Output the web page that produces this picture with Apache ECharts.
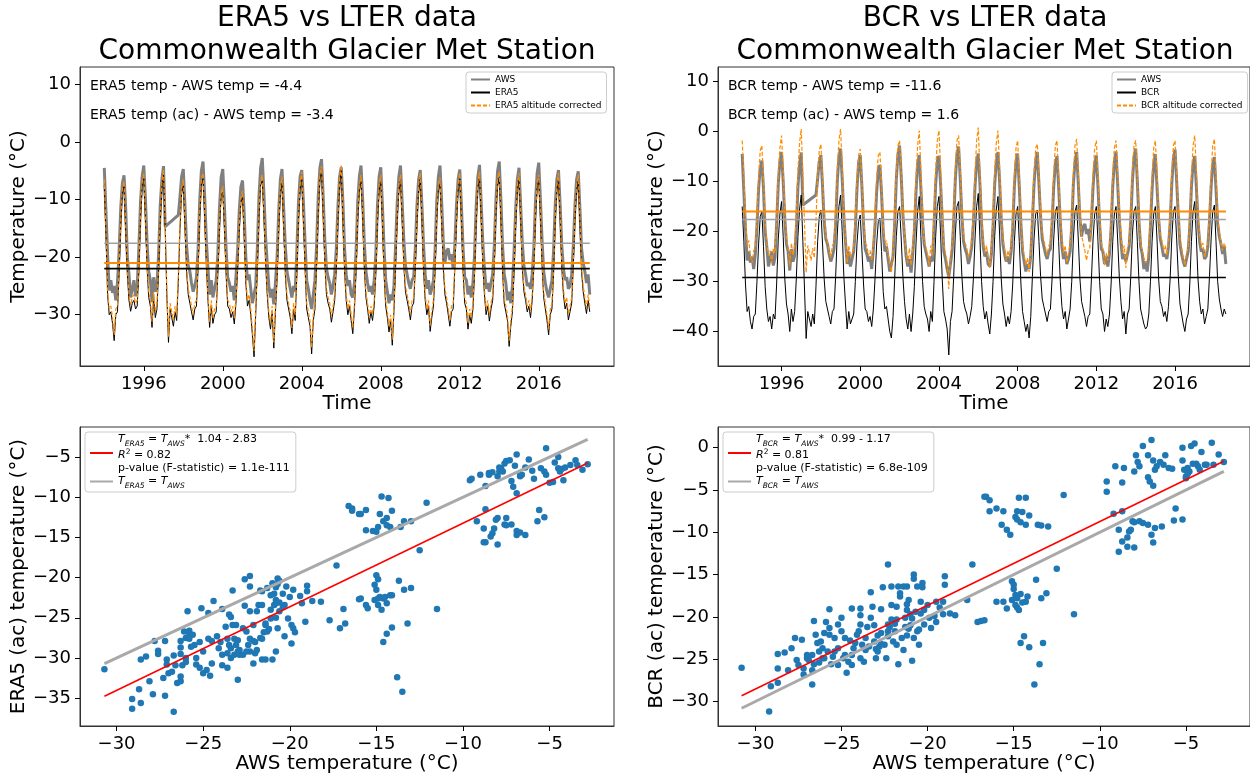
<!DOCTYPE html>
<html><head><meta charset="utf-8">
<script src="https://cdn.jsdelivr.net/npm/echarts@6/dist/echarts.min.js"></script>
<style>html,body{margin:0;padding:0;background:#fff}#c{width:1250px;height:776px}</style>
</head><body><div id="c"></div>
<script>
// ---------------- DATA ----------------
const startYear = 1994; // monthly values, Jan 1994 .. Aug 2018
const yearTicks = [1996, 2000, 2004, 2008, 2012, 2016];

const aws = [
-4.5,-12.0,-19.5,-25.8,-24.0,-26.2,-25.0,-27.5,-24.5,-19.0,-11.5,-7.2,
-5.8,-11.5,-20.0,-23.0,-27.0,-25.5,-24.0,-26.8,-25.2,-18.5,-10.5,-6.0,
-4.1,-10.0,-17.5,-22.5,-24.0,-27.8,-23.5,-26.0,-24.8,-19.5,-11.0,-6.5,
-4.2,-14.7,-14.5,-14.2,-14.0,-13.7,-13.5,-13.2,-12.9,-12.7,-9.5,-6.0,
-4.7,-11.0,-18.0,-21.5,-22.5,-24.5,-26.0,-25.0,-23.5,-18.5,-10.0,-5.0,
-3.4,-9.5,-17.0,-22.0,-26.5,-24.0,-27.0,-25.5,-24.0,-19.5,-11.5,-6.2,
-4.7,-11.0,-18.5,-23.5,-24.5,-26.0,-25.0,-27.5,-23.5,-19.0,-12.0,-7.8,
-6.7,-12.5,-20.0,-24.0,-23.0,-25.5,-28.0,-26.5,-25.0,-18.5,-9.5,-4.5,
-2.8,-9.0,-16.5,-21.0,-25.0,-27.0,-25.5,-28.2,-24.5,-20.0,-12.0,-6.5,
-4.7,-11.5,-18.0,-22.5,-24.0,-25.5,-27.0,-25.0,-26.0,-19.0,-10.5,-6.0,
-4.9,-10.5,-17.5,-24.0,-25.5,-27.5,-29.0,-26.5,-24.0,-18.0,-9.5,-4.5,
-3.0,-9.5,-17.0,-22.0,-23.5,-24.5,-26.5,-25.0,-23.0,-18.5,-11.0,-6.0,
-4.4,-10.5,-18.5,-23.0,-25.0,-24.0,-26.5,-27.0,-24.5,-19.0,-10.5,-6.0,
-4.1,-10.0,-17.5,-22.5,-24.5,-26.0,-25.0,-26.5,-24.0,-19.5,-11.0,-6.0,
-4.4,-11.0,-18.5,-24.0,-26.0,-28.0,-26.5,-27.5,-25.0,-18.0,-10.5,-6.0,
-4.1,-10.5,-17.0,-21.5,-23.0,-24.5,-25.5,-24.0,-23.5,-18.5,-11.0,-6.5,
-4.9,-11.0,-18.0,-23.0,-25.5,-24.0,-26.5,-25.5,-24.0,-19.0,-10.5,-6.0,
-4.1,-10.5,-17.5,-21.0,-19.0,-18.5,-20.5,-19.5,-22.0,-18.0,-11.0,-6.5,
-4.8,-11.0,-18.5,-23.5,-24.0,-26.5,-25.0,-27.0,-24.5,-19.5,-11.0,-6.0,
-4.0,-10.5,-17.5,-22.0,-25.5,-24.5,-26.0,-24.5,-23.0,-18.0,-10.0,-5.0,
-3.4,-10.0,-18.0,-23.0,-24.5,-27.5,-26.0,-28.0,-25.0,-19.0,-11.5,-6.5,
-4.5,-11.0,-17.5,-21.5,-23.0,-25.0,-24.5,-25.5,-23.0,-18.5,-10.5,-5.5,
-3.6,-10.0,-17.0,-22.5,-24.5,-26.0,-27.0,-25.5,-24.0,-19.0,-11.0,-6.5,
-4.9,-11.0,-18.0,-22.0,-24.0,-23.5,-25.5,-25.0,-23.0,-18.0,-11.0,-6.5,
-5.1,-11.5,-18.5,-21.0,-22.5,-24.5,-23.0,-26.5
];

const era5 = [
-7.5,-16.0,-26.5,-30.0,-29.5,-31.5,-34.5,-30.0,-29.5,-23.0,-14.5,-9.0,
-7.8,-15.5,-23.0,-27.5,-29.4,-28.0,-27.5,-29.0,-28.5,-22.5,-13.5,-8.0,
-6.4,-13.5,-22.0,-27.0,-28.5,-32.2,-27.0,-30.5,-29.0,-22.5,-14.0,-8.0,
-5.8,-15.0,-26.5,-34.8,-29.0,-30.5,-32.0,-29.5,-31.0,-24.0,-15.0,-9.0,
-7.5,-14.5,-22.5,-26.5,-28.0,-29.5,-30.9,-29.0,-28.5,-22.0,-13.0,-7.5,
-6.4,-13.0,-21.5,-27.5,-32.2,-28.5,-31.5,-30.0,-29.5,-23.0,-15.0,-9.5,
-8.7,-15.0,-23.0,-28.5,-29.0,-30.5,-29.5,-31.6,-28.0,-22.5,-15.5,-10.5,
-9.5,-16.5,-24.5,-28.5,-27.5,-30.0,-33.5,-37.3,-30.0,-22.0,-13.0,-7.5,
-6.7,-13.0,-21.0,-26.5,-30.5,-32.5,-29.5,-35.8,-29.5,-24.0,-15.0,-9.0,
-7.0,-15.0,-23.0,-27.5,-29.0,-30.5,-33.3,-29.0,-31.0,-23.0,-13.5,-8.5,
-6.2,-13.5,-22.0,-29.0,-30.5,-32.0,-36.8,-31.0,-29.0,-21.5,-12.5,-6.5,
-5.2,-12.5,-21.0,-26.5,-28.0,-29.0,-31.3,-29.5,-27.5,-22.0,-14.0,-7.5,
-5.0,-13.5,-22.5,-27.5,-30.0,-28.5,-31.0,-33.3,-29.0,-22.5,-13.5,-8.5,
-6.7,-13.0,-22.0,-27.0,-29.0,-31.5,-29.5,-31.0,-28.5,-23.0,-14.0,-8.5,
-6.7,-14.0,-23.0,-28.5,-30.5,-33.0,-31.0,-35.3,-29.5,-21.5,-13.5,-8.5,
-6.7,-13.5,-21.5,-26.0,-27.5,-29.0,-30.9,-28.5,-28.0,-22.0,-14.0,-8.5,
-6.4,-13.5,-22.5,-27.5,-30.0,-28.5,-32.9,-30.5,-28.5,-22.5,-13.5,-8.5,
-7.2,-14.0,-22.0,-26.5,-28.0,-30.0,-32.0,-29.5,-29.0,-22.0,-14.0,-8.5,
-6.4,-13.5,-22.5,-28.0,-29.0,-32.5,-30.0,-31.5,-29.0,-23.0,-14.0,-8.0,
-6.2,-13.0,-21.5,-26.5,-30.0,-28.5,-31.1,-29.0,-27.5,-21.5,-12.5,-7.5,
-6.2,-13.5,-22.5,-28.0,-29.5,-31.0,-35.5,-32.0,-29.5,-22.5,-14.5,-8.5,
-6.4,-13.5,-22.0,-26.0,-27.5,-29.5,-28.5,-30.5,-27.5,-22.0,-13.5,-8.0,
-6.7,-13.0,-21.5,-27.0,-29.0,-31.0,-33.5,-30.0,-29.0,-23.0,-14.0,-8.5,
-6.4,-13.5,-22.0,-26.5,-29.0,-28.0,-30.9,-29.5,-28.0,-21.5,-13.5,-8.5,
-6.7,-14.0,-22.5,-26.0,-28.0,-29.8,-27.5,-29.5
];

const era5ac = [
-6.5,-15.0,-25.5,-29.0,-28.5,-30.5,-33.5,-29.0,-28.5,-22.0,-13.5,-8.0,
-6.8,-14.5,-22.0,-26.5,-28.4,-27.0,-26.5,-28.0,-27.5,-21.5,-12.5,-7.0,
-5.4,-12.5,-21.0,-26.0,-27.5,-31.2,-26.0,-29.5,-28.0,-21.5,-13.0,-7.0,
-4.8,-14.0,-25.5,-33.8,-28.0,-29.5,-31.0,-28.5,-30.0,-23.0,-14.0,-8.0,
-6.5,-13.5,-21.5,-25.5,-27.0,-28.5,-29.9,-28.0,-27.5,-21.0,-12.0,-6.5,
-5.4,-12.0,-20.5,-26.5,-31.2,-27.5,-30.5,-29.0,-28.5,-22.0,-14.0,-8.5,
-7.7,-14.0,-22.0,-27.5,-28.0,-29.5,-28.5,-30.6,-27.0,-21.5,-14.5,-9.5,
-8.5,-15.5,-23.5,-27.5,-26.5,-29.0,-32.5,-36.3,-29.0,-21.0,-12.0,-6.5,
-5.7,-12.0,-20.0,-25.5,-29.5,-31.5,-28.5,-34.8,-28.5,-23.0,-14.0,-8.0,
-6.0,-14.0,-22.0,-26.5,-28.0,-29.5,-32.3,-28.0,-30.0,-22.0,-12.5,-7.5,
-5.2,-12.5,-21.0,-28.0,-29.5,-31.0,-35.8,-30.0,-28.0,-20.5,-11.5,-5.5,
-4.2,-11.5,-20.0,-25.5,-27.0,-28.0,-30.3,-28.5,-26.5,-21.0,-13.0,-6.5,
-4.0,-12.5,-21.5,-26.5,-29.0,-27.5,-30.0,-32.3,-28.0,-21.5,-12.5,-7.5,
-5.7,-12.0,-21.0,-26.0,-28.0,-30.5,-28.5,-30.0,-27.5,-22.0,-13.0,-7.5,
-5.7,-13.0,-22.0,-27.5,-29.5,-32.0,-30.0,-34.3,-28.5,-20.5,-12.5,-7.5,
-5.7,-12.5,-20.5,-25.0,-26.5,-28.0,-29.9,-27.5,-27.0,-21.0,-13.0,-7.5,
-5.4,-12.5,-21.5,-26.5,-29.0,-27.5,-31.9,-29.5,-27.5,-21.5,-12.5,-7.5,
-6.2,-13.0,-21.0,-25.5,-27.0,-29.0,-31.0,-28.5,-28.0,-21.0,-13.0,-7.5,
-5.4,-12.5,-21.5,-27.0,-28.0,-31.5,-29.0,-30.5,-28.0,-22.0,-13.0,-7.0,
-5.2,-12.0,-20.5,-25.5,-29.0,-27.5,-30.1,-28.0,-26.5,-20.5,-11.5,-6.5,
-5.2,-12.5,-21.5,-27.0,-28.5,-30.0,-34.5,-31.0,-28.5,-21.5,-13.5,-7.5,
-5.4,-12.5,-21.0,-25.0,-26.5,-28.5,-27.5,-29.5,-26.5,-21.0,-12.5,-7.0,
-5.7,-12.0,-20.5,-26.0,-28.0,-30.0,-32.5,-29.0,-28.0,-22.0,-13.0,-7.5,
-5.4,-12.5,-21.0,-25.5,-28.0,-27.0,-29.9,-28.5,-27.0,-20.5,-12.5,-7.5,
-5.7,-13.0,-21.5,-25.0,-27.0,-28.8,-26.5,-28.5
];

const bcr = [
-15.0,-22.0,-30.5,-36.0,-35.0,-38.0,-39.5,-37.0,-36.5,-30.0,-22.5,-17.0,
-16.0,-23.0,-31.0,-35.5,-38.0,-37.0,-39.5,-36.5,-37.5,-30.5,-21.5,-16.5,
-14.0,-21.0,-29.5,-34.5,-36.5,-40.0,-35.5,-38.0,-36.0,-29.5,-21.0,-15.5,
-12.7,-22.0,-31.5,-41.4,-36.0,-37.5,-39.0,-36.5,-38.5,-31.0,-22.0,-17.0,
-15.7,-22.5,-29.5,-34.0,-35.5,-37.0,-38.5,-36.0,-35.5,-29.0,-20.5,-15.0,
-12.7,-20.0,-29.0,-34.5,-39.5,-36.0,-38.5,-37.5,-36.5,-30.0,-22.5,-18.0,
-16.7,-23.5,-30.5,-35.5,-36.0,-38.0,-37.0,-39.0,-35.5,-29.5,-22.5,-18.0,
-17.3,-24.0,-32.0,-35.5,-35.0,-37.5,-40.0,-41.3,-37.0,-29.5,-21.0,-16.0,
-15.0,-21.5,-29.0,-34.0,-37.5,-39.5,-36.5,-40.0,-36.5,-31.0,-22.5,-16.0,
-13.0,-21.0,-30.0,-35.0,-36.5,-37.5,-40.0,-36.0,-38.0,-30.0,-21.0,-15.0,
-13.0,-20.5,-29.5,-36.0,-37.5,-39.5,-44.7,-38.0,-36.0,-29.0,-20.5,-15.0,
-14.0,-21.0,-29.0,-34.0,-35.5,-36.5,-38.5,-37.0,-35.0,-29.5,-21.5,-15.0,
-12.4,-21.5,-30.0,-35.0,-37.5,-36.0,-38.5,-40.5,-36.5,-30.0,-21.0,-15.5,
-13.0,-20.5,-29.5,-34.5,-36.5,-39.0,-37.0,-38.5,-36.0,-30.5,-22.0,-16.5,
-15.0,-22.0,-30.5,-36.0,-38.0,-40.0,-38.5,-41.3,-37.0,-29.0,-21.5,-16.5,
-15.7,-22.0,-29.0,-33.5,-35.0,-36.5,-38.0,-36.0,-35.5,-29.5,-21.5,-16.0,
-15.0,-22.0,-30.0,-35.0,-37.5,-36.0,-39.5,-37.5,-35.5,-30.0,-21.5,-16.0,
-14.7,-21.5,-29.5,-34.0,-35.5,-37.0,-39.0,-37.0,-36.5,-29.5,-21.5,-16.5,
-15.0,-22.0,-30.0,-35.5,-36.5,-40.0,-37.5,-39.0,-36.5,-30.5,-22.0,-16.5,
-15.0,-21.5,-29.0,-34.0,-37.5,-36.0,-40.5,-36.5,-35.5,-29.0,-20.5,-16.0,
-15.0,-22.0,-30.0,-35.5,-37.0,-38.5,-39.5,-39.0,-36.5,-30.0,-22.0,-16.5,
-15.0,-21.5,-29.5,-34.0,-35.0,-37.0,-36.0,-38.0,-35.0,-29.5,-21.5,-16.0,
-15.0,-21.5,-29.0,-34.5,-36.5,-38.5,-40.0,-37.5,-36.5,-30.5,-22.0,-16.0,
-14.0,-21.0,-29.5,-34.0,-36.5,-35.5,-38.5,-37.0,-35.5,-29.0,-21.5,-16.0,
-14.7,-22.0,-30.0,-33.5,-35.5,-37.0,-35.5,-36.5
];

const bcrac = [
-1.8,-8.8,-17.3,-22.8,-21.8,-24.8,-26.3,-23.8,-23.3,-16.8,-9.3,-3.8,
-2.8,-9.8,-17.8,-22.3,-24.8,-23.8,-26.3,-23.3,-24.3,-17.3,-8.3,-3.3,
-0.8,-7.8,-16.3,-21.3,-23.3,-26.8,-22.3,-24.8,-22.8,-16.3,-7.8,-2.3,
0.5,-8.8,-18.3,-28.2,-22.8,-24.3,-25.8,-23.3,-25.3,-17.8,-8.8,-3.8,
-2.5,-9.3,-16.3,-20.8,-22.3,-23.8,-25.3,-22.8,-22.3,-15.8,-7.3,-1.8,
0.5,-6.8,-15.8,-21.3,-26.3,-22.8,-25.3,-24.3,-23.3,-16.8,-9.3,-4.8,
-3.5,-10.3,-17.3,-22.3,-22.8,-24.8,-23.8,-25.8,-22.3,-16.3,-9.3,-4.8,
-4.1,-10.8,-18.8,-22.3,-21.8,-24.3,-26.8,-28.1,-23.8,-16.3,-7.8,-2.8,
-1.8,-8.3,-15.8,-20.8,-24.3,-26.3,-23.3,-26.8,-23.3,-17.8,-9.3,-2.8,
0.2,-7.8,-16.8,-21.8,-23.3,-24.3,-26.8,-22.8,-24.8,-16.8,-7.8,-1.8,
0.2,-7.3,-16.3,-22.8,-24.3,-26.3,-31.5,-24.8,-22.8,-15.8,-7.3,-1.8,
-0.8,-7.8,-15.8,-20.8,-22.3,-23.3,-25.3,-23.8,-21.8,-16.3,-8.3,-1.8,
0.8,-8.3,-16.8,-21.8,-24.3,-22.8,-25.3,-27.3,-23.3,-16.8,-7.8,-2.3,
0.2,-7.3,-16.3,-21.3,-23.3,-25.8,-23.8,-25.3,-22.8,-17.3,-8.8,-3.3,
-1.8,-8.8,-17.3,-22.8,-24.8,-26.8,-25.3,-28.1,-23.8,-15.8,-8.3,-3.3,
-2.5,-8.8,-15.8,-20.3,-21.8,-23.3,-24.8,-22.8,-22.3,-16.3,-8.3,-2.8,
-1.8,-8.8,-16.8,-21.8,-24.3,-22.8,-26.3,-24.3,-22.3,-16.8,-8.3,-2.8,
-1.5,-8.3,-16.3,-20.8,-22.3,-23.8,-25.8,-23.8,-23.3,-16.3,-8.3,-3.3,
-1.8,-8.8,-16.8,-22.3,-23.3,-26.8,-24.3,-25.8,-23.3,-17.3,-8.8,-3.3,
-1.8,-8.3,-15.8,-20.8,-24.3,-22.8,-27.3,-23.3,-22.3,-15.8,-7.3,-2.8,
-1.8,-8.8,-16.8,-22.3,-23.8,-25.3,-26.3,-25.8,-23.3,-16.8,-8.8,-3.3,
-1.8,-8.3,-16.3,-20.8,-21.8,-23.8,-22.8,-24.8,-21.8,-16.3,-8.3,-2.8,
-1.8,-8.3,-15.8,-21.3,-23.3,-25.3,-26.8,-24.3,-23.3,-17.3,-8.8,-2.8,
-0.8,-7.8,-16.3,-20.8,-23.3,-22.3,-25.3,-23.8,-22.3,-15.8,-8.3,-2.8,
-1.5,-8.8,-16.8,-20.3,-22.3,-23.8,-22.3,-23.3
];

// period means (horizontal lines) and stated differences
const awsMean = -17.6, era5Mean = -22.0, era5acMean = -21.0, bcrMean = -29.2, bcracMean = -16.0;
const era5Diff = '-4.4', era5acDiff = '-3.4', bcrDiff = '-11.6', bcracDiff = '1.6';

// scatter: [AWS temp, reanalysis (ac) temp]
const scatterEra5 = [
[-30.7,-31.4],[-29.1,-36.3],[-29.1,-35.1],[-28.6,-35.6],[-28.7,-33.9],[-28.1,-32.9],[-27.9,-34.5],[-27.2,-34.7],[-26.7,-36.7],[-27.3,-32.5],
[-27.0,-31.9],[-26.5,-33.1],[-26.3,-32.9],[-28.6,-30.2],[-28.3,-29.8],[-27.6,-29.1],[-27.6,-29.5],[-27.8,-27.9],[-27.2,-27.9],[-27.1,-30.2],
[-27.1,-30.8],[-26.6,-30.9],[-26.7,-29.7],[-26.3,-29.5],[-26.3,-28.7],[-26.3,-27.9],[-26.0,-27.5],[-26.2,-30.9],[-26.0,-30.5],[-25.9,-24.2],
[-25.8,-26.6],[-25.8,-27.1],[-25.7,-28.6],[-25.4,-30.0],[-25.4,-30.8],[-25.2,-31.2],[-25.0,-31.9],[-24.8,-31.5],[-24.6,-32.2],[-25.1,-23.8],
[-24.7,-24.4],[-24.4,-22.9],[-24.5,-30.7],[-24.1,-28.8],[-23.9,-29.6],[-23.9,-23.9],[-23.9,-30.9],[-23.6,-31.2],[-23.7,-26.1],[-23.5,-24.6],
[-23.4,-24.9],[-23.3,-25.9],[-23.1,-25.9],[-23.5,-28.4],[-23.4,-28.8],[-23.2,-27.6],[-23.0,-27.8],[-23.3,-21.6],[-23.0,-32.7],[-22.9,-29.6],
[-22.7,-29.6],[-22.6,-23.5],[-22.6,-20.2],[-22.3,-19.8],[-22.3,-21.1],[-22.5,-26.7],[-22.4,-28.4],[-22.3,-29.2],[-22.1,-30.7],[-22.0,-29.4],
[-22.0,-28.0],[-22.1,-25.9],[-21.9,-24.2],[-21.8,-23.4],[-21.7,-21.6],[-21.6,-23.4],[-21.7,-27.5],[-21.6,-30.2],[-21.6,-27.6],[-21.4,-25.9],
[-21.3,-26.7],[-21.1,-25.1],[-21.1,-24.0],[-21.0,-20.7],[-20.9,-22.0],[-20.8,-21.2],[-20.7,-20.1],[-20.6,-20.4],[-20.7,-20.8],[-20.8,-22.8],
[-20.7,-26.3],[-20.8,-25.0],[-20.6,-23.1],[-20.6,-24.2],[-20.4,-22.0],[-20.3,-27.3],[-20.2,-21.1],[-20.1,-25.1],[-20.0,-22.4],[-19.9,-28.2],
[-19.8,-21.5],[-19.8,-26.3],[-19.7,-26.8],[-19.4,-22.3],[-19.3,-23.2],[-19.0,-21.0],[-19.0,-21.7],[-19.1,-25.5],[-18.7,-22.9],[-18.2,-23.0],
[-17.7,-25.3],[-17.3,-18.5],[-17.1,-26.3],[-16.9,-23.9],[-16.8,-25.7],[-16.6,-11.1],[-16.4,-11.4],[-16.4,-11.7],[-16.0,-12.1],[-16.0,-22.7],
[-21.0,-30.2],[-20.8,-29.2],[-21.4,-30.2],[-21.9,-29.0],[-21.5,-26.8],[-22.5,-29.2],[-23.1,-28.4],[-24.0,-28.0],[-24.2,-27.3],[-23.6,-29.4],
[-25.0,-29.2],[-25.2,-28.0],[-25.5,-28.4],[-26.0,-30.0],[-26.8,-31.7],[-26.3,-32.3],[-26.1,-26.7],[-25.8,-27.6],[-25.6,-27.1],[-24.7,-27.6],
[-24.5,-27.9],[-23.6,-27.6],[-23.4,-30.0],[-23.2,-29.6],[-22.9,-29.0],[-22.1,-27.9],[-22.3,-27.6],[-21.4,-25.7],[-21.2,-26.4],[-20.8,-23.2],
[-20.4,-23.7],[-20.3,-23.4],[-19.9,-25.9],[-23.0,-29.2],[-22.7,-26.3],[-22.3,-24.2],[-21.6,-21.7],[-21.3,-21.3],[-21.1,-22.2],[-20.9,-23.4],
[-15.9,-12.1],[-15.9,-22.6],[-15.6,-11.6],[-15.2,-14.2],[-15.0,-14.3],[-15.6,-14.1],[-14.9,-13.7],[-14.8,-12.1],[-14.7,-9.9],[-14.6,-13.0],
[-14.4,-12.6],[-14.4,-13.5],[-14.3,-10.1],[-14.1,-11.7],[-14.2,-13.7],[-13.6,-13.7],[-13.4,-13.0],[-13.0,-13.0],[-12.1,-10.7],[-12.5,-16.6],
[-9.6,-7.9],[-9.5,-7.7],[-9.0,-7.2],[-8.5,-7.2],[-8.7,-8.6],[-8.0,-7.4],[-7.9,-6.8],[-7.8,-6.4],[-7.6,-5.8],[-7.5,-5.5],
[-7.3,-5.4],[-6.9,-4.7],[-7.0,-6.1],[-7.2,-8.0],[-7.1,-8.7],[-6.9,-9.5],[-6.7,-7.2],[-6.7,-7.4],[-6.6,-7.2],[-6.4,-6.3],
[-6.2,-5.3],[-6.0,-6.7],[-5.9,-7.7],[-5.5,-6.4],[-5.3,-6.8],[-5.2,-3.9],[-5.2,-7.2],[-5.0,-8.2],[-4.8,-8.1],[-4.7,-5.7],
[-4.5,-5.0],[-4.5,-6.4],[-4.4,-6.8],[-4.3,-6.5],[-4.2,-7.9],[-4.1,-6.3],[-3.8,-6.0],[-3.5,-5.4],[-3.4,-6.0],[-3.1,-6.6],
[-2.8,-5.9],[-8.7,-11.5],[-9.2,-13.0],[-8.8,-13.9],[-8.2,-13.9],[-8.3,-14.5],[-8.4,-14.9],[-8.8,-15.6],[-8.7,-15.6],[-8.0,-15.9],
[-8.1,-12.8],[-8.0,-12.6],[-7.5,-12.6],[-7.6,-13.4],[-7.5,-13.5],[-7.2,-13.4],[-6.9,-14.2],[-6.7,-14.4],[-6.9,-14.7],[-6.4,-14.7],
[-5.7,-13.0],[-5.6,-11.6],[-5.3,-12.5],[-15.0,-19.7],[-14.9,-20.2],[-15.1,-20.9],[-15.0,-21.5],[-14.9,-22.6],[-14.8,-22.4],[-14.6,-22.6],
[-14.5,-22.4],[-14.2,-22.2],[-14.1,-22.2],[-15.1,-22.8],[-14.9,-23.4],[-14.7,-24.0],[-14.4,-23.2],[-15.6,-23.4],[-15.5,-23.8],[-13.7,-20.4],
[-13.4,-21.5],[-13.0,-21.3],[-13.2,-25.7],[-11.5,-23.9],[-14.1,-26.2],[-14.4,-27.0],[-14.6,-28.0],[-13.8,-32.4],[-13.5,-34.2],[-8.5,-7.0],
[-8.3,-6.9],[-7.9,-6.3],[-7.7,-6.8]
];

const scatterBcr = [
[-30.8,-26.0],[-29.2,-31.2],[-29.1,-28.2],[-28.7,-27.8],[-28.7,-26.1],[-28.7,-24.4],[-28.3,-24.2],[-27.9,-23.7],[-28.1,-26.3],[-27.7,-22.5],
[-27.6,-25.1],[-27.3,-22.7],[-27.2,-26.1],[-27.2,-26.8],[-27.0,-24.9],[-26.7,-28.0],[-26.7,-26.3],[-26.6,-20.5],[-26.7,-24.5],[-26.6,-25.6],
[-26.5,-22.1],[-26.4,-23.1],[-26.3,-25.4],[-26.2,-22.9],[-26.1,-24.9],[-26.0,-21.9],[-25.9,-20.6],[-25.8,-24.1],[-25.7,-19.1],[-25.7,-21.3],
[-25.7,-22.1],[-25.6,-25.6],[-25.5,-24.7],[-25.4,-24.1],[-25.2,-20.9],[-25.2,-23.7],[-25.0,-20.1],[-24.9,-24.9],[-24.8,-24.5],[-24.7,-26.6],
[-24.6,-25.3],[-24.5,-22.8],[-24.4,-19.0],[-24.4,-24.5],[-24.4,-25.7],[-24.3,-23.7],[-24.2,-23.1],[-24.1,-22.1],[-23.9,-19.0],[-23.9,-19.8],
[-23.9,-20.9],[-23.9,-24.9],[-23.7,-25.3],[-23.6,-23.9],[-23.6,-22.5],[-23.4,-23.5],[-23.3,-17.1],[-23.3,-20.1],[-23.2,-18.8],[-23.1,-21.0],
[-23.0,-24.9],[-23.0,-23.8],[-22.9,-22.2],[-22.9,-24.1],[-22.8,-23.5],[-22.7,-23.2],[-22.7,-19.1],[-22.6,-16.5],[-22.5,-23.3],[-22.3,-22.3],
[-22.3,-13.8],[-22.3,-21.7],[-22.2,-21.2],[-22.1,-20.3],[-22.1,-16.4],[-22.0,-22.9],[-21.9,-21.7],[-21.8,-23.3],[-21.8,-20.3],[-21.7,-25.6],
[-21.7,-16.4],[-21.6,-17.6],[-21.6,-17.2],[-21.4,-16.4],[-21.4,-23.9],[-21.3,-21.2],[-21.2,-18.5],[-21.2,-19.2],[-21.2,-16.4],[-21.1,-21.4],
[-21.1,-18.0],[-21.0,-19.7],[-20.9,-20.2],[-20.9,-25.2],[-20.8,-15.0],[-20.8,-15.5],[-20.7,-19.4],[-20.6,-16.4],[-20.6,-21.7],[-20.5,-23.3],
[-20.4,-18.2],[-20.4,-19.6],[-20.3,-16.0],[-20.3,-16.5],[-20.2,-20.9],[-20.2,-19.2],[-20.0,-18.6],[-19.9,-20.1],[-19.8,-21.3],[-19.6,-19.9],
[-19.5,-20.6],[-19.5,-18.2],[-19.3,-18.9],[-19.1,-18.2],[-19.0,-15.2],[-19.0,-16.2],[-19.1,-19.7],[-18.7,-19.6],[-18.4,-19.8],[-17.7,-18.0],
[-17.4,-13.8],[-17.1,-20.6],[-16.9,-20.5],[-16.7,-5.8],[-21.2,-22.2],[-20.8,-22.5],[-20.5,-21.5],[-21.9,-20.8],[-22.3,-20.9],[-21.5,-22.5],
[-23.1,-22.9],[-23.5,-21.2],[-24.0,-21.7],[-24.8,-22.5],[-25.0,-21.7],[-25.4,-22.5],[-26.1,-23.7],[-26.9,-25.1],[-27.5,-25.7],[-27.0,-24.5],
[-26.3,-24.1],[-26.0,-24.9],[-25.2,-25.7],[-23.8,-23.3],[-22.7,-21.9],[-22.4,-24.9],[-21.0,-21.0],[-21.3,-20.1],[-21.8,-18.8],[-22.1,-18.6],
[-16.7,-20.4],[-16.6,-5.8],[-16.4,-6.2],[-16.4,-7.5],[-16.0,-7.2],[-15.6,-7.5],[-15.7,-9.1],[-15.4,-9.7],[-15.2,-10.3],[-14.9,-8.2],
[-14.8,-7.5],[-14.7,-5.9],[-14.3,-5.9],[-14.8,-8.5],[-14.6,-8.8],[-14.5,-7.6],[-14.3,-9.1],[-14.1,-8.0],[-13.6,-9.1],[-13.4,-9.2],
[-13.0,-9.3],[-12.1,-5.6],[-12.5,-14.3],[-13.7,-15.6],[-13.4,-17.8],[-13.1,-17.2],[-16.0,-18.2],[-15.6,-18.2],[-15.4,-19.0],[-15.1,-15.8],
[-15.0,-16.2],[-15.0,-16.7],[-14.9,-17.4],[-15.1,-18.0],[-14.8,-17.8],[-14.6,-17.3],[-14.5,-18.3],[-14.3,-18.2],[-14.2,-17.6],[-14.8,-18.9],
[-14.7,-19.2],[-14.9,-18.6],[-11.5,-19.7],[-14.4,-22.3],[-14.6,-23.1],[-14.1,-23.6],[-13.3,-23.1],[-13.5,-25.6],[-13.8,-28.0],[-9.6,-4.0],
[-9.6,-5.2],[-9.1,-2.2],[-8.6,-2.4],[-8.7,-4.1],[-8.0,-2.8],[-7.9,-0.9],[-7.8,-1.7],[-7.7,-2.2],[-7.5,0.2],[-7.2,-0.9],
[-7.2,-3.5],[-7.1,-4.0],[-6.9,-1.5],[-6.9,-4.5],[-6.8,-2.6],[-6.7,-2.2],[-6.5,-1.7],[-6.3,-2.0],[-6.2,-0.9],[-6.0,-2.4],
[-5.8,-2.5],[-7.0,0.9],[-5.2,-1.5],[-5.2,0.0],[-5.1,-2.6],[-5.0,-3.4],[-4.9,-2.4],[-4.8,-2.8],[-4.7,0.2],[-4.5,0.5],
[-4.4,-1.9],[-4.3,-2.2],[-4.2,-2.6],[-4.1,-0.5],[-3.9,-2.0],[-3.8,-2.0],[-3.5,0.6],[-3.4,-2.0],[-3.1,-0.8],[-2.8,-1.7],
[-9.2,-7.8],[-8.7,-7.5],[-8.9,-9.7],[-8.7,-11.1],[-8.9,-12.3],[-8.4,-10.6],[-8.3,-9.9],[-8.2,-9.7],[-8.4,-11.7],[-8.0,-11.8],
[-8.1,-8.7],[-8.0,-8.8],[-7.7,-8.7],[-7.5,-8.9],[-7.2,-9.1],[-7.0,-10.3],[-6.9,-11.2],[-6.8,-9.5],[-6.4,-9.3],[-5.6,-7.2],
[-5.7,-8.6],[-5.2,-8.5],[-5.0,-3.6],[-4.9,-3.1],[-4.6,-1.9]
];

// regression fits: plotted line (slope, intercept) and the legend text as printed
const fitEra5 = { slope: 1.04, intercept: -2.83, label: '1.04 - 2.83', r2: '0.82', p: '1.1e-111' };
const fitBcr  = { slope: 0.99, intercept: 1.17, label: '0.99 - 1.17', r2: '0.81', p: '6.8e-109' };

// ---------------- CHART ----------------
const FONT = 'DejaVu Sans';
const MINUS = '\u2212';
const fmt = v => (v < 0 ? MINUS + Math.abs(v) : String(v));
const toSeries = arr => arr.map((v, i) => [startYear + i / 12, v]);
const tStart = startYear, tEnd = startYear + (aws.length - 1) / 12;
const hline = v => [[tStart, v], [tEnd, v]];

function lineRange(pts, slope, intercept) {
  const xs = pts.map(p => p[0]);
  const x0 = Math.min(...xs), x1 = Math.max(...xs);
  return [[x0, slope * x0 + intercept], [x1, slope * x1 + intercept]];
}

const grids = [
  { left: 80, top: 67, width: 534, height: 299 },
  { left: 718, top: 67, width: 534, height: 299 },
  { left: 80, top: 427, width: 534, height: 299 },
  { left: 718, top: 427, width: 534, height: 299 }
].map(g => Object.assign(g, { show: true, borderColor: '#333', borderWidth: 1, backgroundColor: 'transparent', containLabel: false }));

function axis(gridIndex, min, max, ticks, name, nameGap, labelFmt) {
  return {
    type: 'value', gridIndex, min, max, scale: true,
    name, nameLocation: 'middle', nameGap,
    nameTextStyle: { fontFamily: FONT, fontSize: 20, color: '#000' },
    axisLine: { show: true, onZero: false, lineStyle: { color: '#333', width: 1 } },
    axisTick: { show: true, inside: false, length: 5, lineStyle: { color: '#000', width: 1 }, customValues: ticks },
    axisLabel: { customValues: ticks, formatter: labelFmt || fmt, fontFamily: FONT, fontSize: 18, color: '#000', margin: 9 },
    splitLine: { show: false }
  };
}

const yTicksTL = [10, 0, -10, -20, -30];
const yTicksTR = [10, 0, -10, -20, -30, -40];
const xTicksS = [-30, -25, -20, -15, -10, -5];
const yTicksBL = [-35, -30, -25, -20, -15, -10, -5];
const yTicksBR = [-30, -25, -20, -15, -10, -5, 0];

const xAxis = [
  axis(0, 1992.77, 2019.81, yearTicks, 'Time', 28, v => String(v)),
  axis(1, 1992.77, 2019.81, yearTicks, 'Time', 28, v => String(v)),
  axis(2, -32.11, -1.28, xTicksS, 'AWS temperature (\u00B0C)', 27),
  axis(3, -32.17, -1.28, xTicksS, 'AWS temperature (\u00B0C)', 27)
];
const yAxis = [
  axis(0, -38.9, 13.0, yTicksTL, 'Temperature (\u00B0C)', 50),
  axis(1, -46.9, 12.9, yTicksTR, 'Temperature (\u00B0C)', 50),
  axis(2, -38.46, -1.27, yTicksBL, 'ERA5 (ac) temperature (\u00B0C)', 50),
  axis(3, -32.9, 2.45, yTicksBR, 'BCR (ac) temperature (\u00B0C)', 50)
];

const lineBase = { type: 'line', symbol: 'none', showSymbol: false, animation: false, silent: true };
const S = (o) => Object.assign({}, lineBase, o);

const series = [
  // top-left
  S({ name: 'AWS', xAxisIndex: 0, yAxisIndex: 0, data: toSeries(aws), lineStyle: { color: '#808080', width: 3 }, itemStyle: { color: '#808080' }, z: 2 }),
  S({ name: 'ERA5', xAxisIndex: 0, yAxisIndex: 0, data: toSeries(era5), lineStyle: { color: '#000', width: 1 }, itemStyle: { color: '#000' }, z: 3 }),
  S({ name: 'ERA5 altitude corrected', xAxisIndex: 0, yAxisIndex: 0, data: toSeries(era5ac), lineStyle: { color: '#ff8c00', width: 1.2, type: [4, 2] }, itemStyle: { color: '#ff8c00' }, z: 4 }),
  S({ name: 'awsMeanL', xAxisIndex: 0, yAxisIndex: 0, data: hline(awsMean), lineStyle: { color: '#a0a0a0', width: 1.6 }, z: 5 }),
  S({ name: 'era5MeanL', xAxisIndex: 0, yAxisIndex: 0, data: hline(era5Mean), lineStyle: { color: '#000', width: 1.6 }, z: 5 }),
  S({ name: 'era5acMeanL', xAxisIndex: 0, yAxisIndex: 0, data: hline(era5acMean), lineStyle: { color: '#ff8c00', width: 2 }, z: 5 }),
  // top-right
  S({ name: 'AWS', xAxisIndex: 1, yAxisIndex: 1, data: toSeries(aws), lineStyle: { color: '#808080', width: 3 }, itemStyle: { color: '#808080' }, z: 2 }),
  S({ name: 'BCR', xAxisIndex: 1, yAxisIndex: 1, data: toSeries(bcr), lineStyle: { color: '#000', width: 1 }, itemStyle: { color: '#000' }, z: 3 }),
  S({ name: 'BCR altitude corrected', xAxisIndex: 1, yAxisIndex: 1, data: toSeries(bcrac), lineStyle: { color: '#ff8c00', width: 1.2, type: [4, 2] }, itemStyle: { color: '#ff8c00' }, z: 4 }),
  S({ name: 'awsMeanR', xAxisIndex: 1, yAxisIndex: 1, data: hline(awsMean), lineStyle: { color: '#a0a0a0', width: 1.6 }, z: 5 }),
  S({ name: 'bcrMeanR', xAxisIndex: 1, yAxisIndex: 1, data: hline(bcrMean), lineStyle: { color: '#000', width: 1.6 }, z: 5 }),
  S({ name: 'bcracMeanR', xAxisIndex: 1, yAxisIndex: 1, data: hline(bcracMean), lineStyle: { color: '#ff8c00', width: 2 }, z: 5 }),
  // bottom-left
  { type: 'scatter', name: 'ptsE', xAxisIndex: 2, yAxisIndex: 2, data: scatterEra5, symbolSize: 6.5, itemStyle: { color: '#1f77b4', opacity: 1 }, animation: false, silent: true, z: 2 },
  S({ name: 'fitE', xAxisIndex: 2, yAxisIndex: 2, data: lineRange(scatterEra5, fitEra5.slope, fitEra5.intercept), lineStyle: { color: '#ff0000', width: 1.6 }, itemStyle: { color: '#ff0000' }, z: 4 }),
  S({ name: 'oneE', xAxisIndex: 2, yAxisIndex: 2, data: lineRange(scatterEra5, 1, 0), lineStyle: { color: '#a9a9a9', width: 3 }, itemStyle: { color: '#a9a9a9' }, z: 3 }),
  // bottom-right
  { type: 'scatter', name: 'ptsB', xAxisIndex: 3, yAxisIndex: 3, data: scatterBcr, symbolSize: 6.5, itemStyle: { color: '#1f77b4', opacity: 1 }, animation: false, silent: true, z: 2 },
  S({ name: 'fitB', xAxisIndex: 3, yAxisIndex: 3, data: lineRange(scatterBcr, fitBcr.slope, fitBcr.intercept), lineStyle: { color: '#ff0000', width: 1.6 }, itemStyle: { color: '#ff0000' }, z: 4 }),
  S({ name: 'oneB', xAxisIndex: 3, yAxisIndex: 3, data: lineRange(scatterBcr, 1, 0), lineStyle: { color: '#a9a9a9', width: 3 }, itemStyle: { color: '#a9a9a9' }, z: 3 })
];

const legendBox = { borderColor: '#cccccc', borderWidth: 1, borderRadius: 3, backgroundColor: 'rgba(255,255,255,0.8)', selectedMode: false, orient: 'vertical', align: 'left',
  itemStyle: { opacity: 0, borderWidth: 0 } };
const richStyles = {
  i: { fontStyle: 'italic', fontSize: 11, fontFamily: FONT, lineHeight: 17, color: '#000' },
  s: { fontStyle: 'italic', fontSize: 7.5, fontFamily: FONT, lineHeight: 10, verticalAlign: 'bottom', color: '#000' },
  n: { fontSize: 11, fontFamily: FONT, lineHeight: 17, color: '#000' },
  r: { fontStyle: 'italic', fontSize: 11, fontFamily: FONT, lineHeight: 14, color: '#000' },
  p: { fontSize: 7.5, fontFamily: FONT, lineHeight: 7, verticalAlign: 'top', color: '#000' },
  m: { fontSize: 11, fontFamily: FONT, lineHeight: 14, color: '#000' },
  q: { fontSize: 11, fontFamily: FONT, lineHeight: 13, color: '#000' }
};
function fitLabel(tag, fit) {
  return '{i|T}{s|' + tag + '}{n| = }{i|T}{s|AWS}{n|*  ' + fit.label + '}\n' +
         '{r|R}{p|2}{m| = ' + fit.r2 + '}\n' +
         '{q|p-value (F-statistic) = ' + fit.p + '}';
}
const oneLabel = tag => '{i|T}{s|' + tag + '}{n| = }{i|T}{s|AWS}';

const legend = [
  Object.assign({}, legendBox, { data: ['AWS', 'ERA5', 'ERA5 altitude corrected'], left: 466, top: 72, padding: [3, 5, 3, 4], itemWidth: 19, itemHeight: 10, itemGap: 4, textStyle: { fontFamily: FONT, fontSize: 9, color: '#000' } }),
  Object.assign({}, legendBox, { data: ['AWS', 'BCR', 'BCR altitude corrected'], left: 1112, top: 72, padding: [3, 5, 3, 4], itemWidth: 19, itemHeight: 10, itemGap: 4, textStyle: { fontFamily: FONT, fontSize: 9, color: '#000' } }),
  Object.assign({}, legendBox, { data: ['fitE', 'oneE'], left: 85, top: 432, padding: [2, 6, 2, 4], itemWidth: 23, itemHeight: 10, itemGap: 2,
    formatter: n => (n === 'fitE' ? fitLabel('ERA5', fitEra5) : oneLabel('ERA5')), textStyle: { fontFamily: FONT, fontSize: 11, color: '#000', rich: richStyles } }),
  Object.assign({}, legendBox, { data: ['fitB', 'oneB'], left: 723, top: 432, padding: [2, 6, 2, 4], itemWidth: 23, itemHeight: 10, itemGap: 2,
    formatter: n => (n === 'fitB' ? fitLabel('BCR', fitBcr) : oneLabel('BCR')), textStyle: { fontFamily: FONT, fontSize: 11, color: '#000', rich: richStyles } })
];

const titleStyle = { fontFamily: FONT, fontSize: 28, fontWeight: 'normal', color: '#000', lineHeight: 33 };
const title = [
  { text: 'ERA5 vs LTER data\nCommonwealth Glacier Met Station', left: 347, top: 2, textAlign: 'center', textStyle: titleStyle, padding: 0 },
  { text: 'BCR vs LTER data\nCommonwealth Glacier Met Station', left: 985, top: 2, textAlign: 'center', textStyle: titleStyle, padding: 0 }
];

const annStyle = { fontFamily: FONT, fontSize: 14, fill: '#000' };
const graphic = [
  { type: 'text', left: 90, top: 79, style: Object.assign({ text: 'ERA5 temp - AWS temp = ' + era5Diff }, annStyle) },
  { type: 'text', left: 90, top: 108, style: Object.assign({ text: 'ERA5 temp (ac) - AWS temp = ' + era5acDiff }, annStyle) },
  { type: 'text', left: 728, top: 79, style: Object.assign({ text: 'BCR temp - AWS temp = ' + bcrDiff }, annStyle) },
  { type: 'text', left: 728, top: 108, style: Object.assign({ text: 'BCR temp (ac) - AWS temp = ' + bcracDiff }, annStyle) }
];

const chart = echarts.init(document.getElementById('c'), null, { renderer: 'canvas' });
chart.setOption({ animation: false, backgroundColor: '#fff', title, grid: grids, xAxis, yAxis, series, legend, graphic });
</script>
</body></html>
